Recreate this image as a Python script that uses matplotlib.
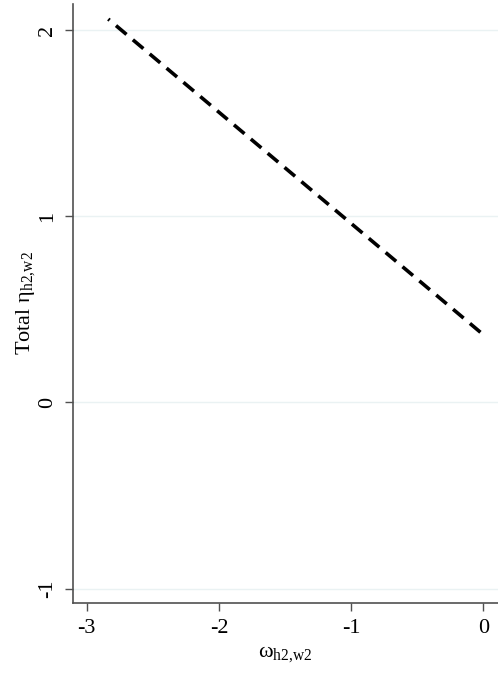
import matplotlib
matplotlib.use("Agg")
import matplotlib.pyplot as plt

# endpoints of the fitted line
omega = [-2.837, 0.0]
eta_total = [2.059, 0.364]

xticks = [-3, -2, -1, 0]
yticks = [-1, 0, 1, 2]

plt.rcParams['font.family'] = ['Liberation Serif', 'DejaVu Serif']
plt.rcParams['mathtext.fontset'] = 'custom'
plt.rcParams['mathtext.rm'] = 'Liberation Serif'
plt.rcParams['mathtext.it'] = 'Liberation Serif'

fig = plt.figure(figsize=(4.98, 6.77), dpi=100)
ax = fig.add_axes([0.146, 0.1098, 0.854, 0.8843])

for y in yticks:
    ax.axhline(y, color='#eaf2f3', linewidth=1.0, zorder=0)

# short dot at the start like the original
ax.plot(omega, eta_total, color='black', linewidth=2.6,
        linestyle=(3.3, (3.8, 2.3)), dash_capstyle='butt', solid_capstyle='butt')

ax.set_xlim(-3.106, 0.111)
ax.set_ylim(-1.075, 2.14)
ax.set_xticks(xticks)
ax.set_yticks(yticks)
ax.set_xticklabels([str(v) for v in xticks])
ax.set_yticklabels([str(v) for v in yticks], rotation=90, va='center')

for s in ['top', 'right']:
    ax.spines[s].set_visible(False)
for s in ['left', 'bottom']:
    ax.spines[s].set_color('#505050')
    ax.spines[s].set_linewidth(1.2)
ax.tick_params(direction='out', length=6, width=1.0, color='#505050',
               labelsize=16, pad=6)
ax.tick_params(axis='y', pad=5)

ax.set_xlabel(r'$\mathrm{ω}_{\mathrm{h2{,}w2}}$', fontsize=16, labelpad=4)
ax.set_ylabel(r'Total $\mathrm{η}_{\mathrm{h2{,}w2}}$', fontsize=16, labelpad=1)

fig.savefig('out.png', dpi=100)
